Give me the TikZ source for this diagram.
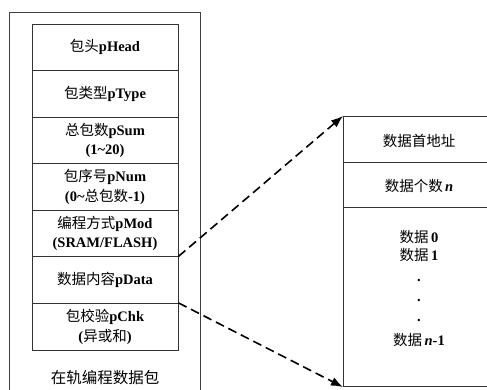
\documentclass[tikz,border=0pt]{standalone}
\usepackage{fontspec}
\setmainfont{Liberation Serif}
\newfontfamily\cjk{Noto Sans CJK SC}
\usetikzlibrary{arrows.meta}
\newcommand{\zh}[1]{{\cjk\mdseries #1}}
\begin{document}
\begin{tikzpicture}[x=1pt,y=-1pt,
  rowbox/.style={draw=black!80, line width=1pt, minimum width=146pt, minimum height=46.57pt, inner sep=0pt, align=center, font=\fontsize{14.5}{19.5}\selectfont\bfseries},
  rbox/.style={draw=black!80, line width=1pt, minimum width=152pt, inner sep=0pt, anchor=north west},
  txt/.style={font=\fontsize{14.5}{19}\selectfont\bfseries, inner sep=0pt, align=center},
  link/.style={dashed, dash pattern=on 9pt off 5pt, line width=1.6pt, -{Latex[length=12pt,width=9pt]}}]
\useasboundingbox (0,0) rectangle (487,389);
\fill[white] (0,0) rectangle (487,389);
% outer box
\draw[line width=1pt, black!75] (9,400) -- (9,12) -- (200,12) -- (200,400);
% left rows
\node[rowbox] (r1) at (105,47.29) {\zh{包头}pHead};
\node[rowbox] (r2) at (105,93.86) {\zh{包类型}pType};
\node[rowbox] (r3) at (105,140.43) {\zh{总包数}pSum\\(1\textasciitilde20)};
\node[rowbox] (r4) at (105,187.0) {\zh{包序号}pNum\\(0\textasciitilde\zh{总包数}-1)};
\node[rowbox] (r5) at (105,233.57) {\zh{编程方式}pMod\\(SRAM/FLASH)};
\node[rowbox] (r6) at (105,280.14) {\zh{数据内容}pData};
\node[rowbox] (r7) at (105,326.71) {\zh{包校验}pChk\\(\zh{异或和})};
\node[txt, font=\fontsize{15.5}{19}\selectfont] (title) at (105,378) {\zh{在轨编程数据包}};
% right box
\node[rbox, minimum height=46pt] (ra) at (343,116) {};
\node[rbox, minimum height=45pt] (rb) at (343,162) {};
\node[rbox, minimum height=179pt] (rc) at (343,207) {};
\node[txt] (ta) at (419,141) {\zh{数据首地址}};
\node[txt] (tb) at (419,186) {\zh{数据个数}\,\textit{n}};
\node[txt] (d0) at (419,237) {\zh{数据}\,0};
\node[txt] (d1) at (419,255) {\zh{数据}\,1};
\node[txt] (p1) at (419,281) {.};
\node[txt] (p2) at (419,301) {.};
\node[txt] (p3) at (419,321) {.};
\node[txt] (dn) at (419,340) {\zh{数据}\,\textit{n}-1};
% connectors
\draw[link] (r6.north east) -- (ra.north west);
\draw[link] (r7.north east) -- (rc.south west);
\end{tikzpicture}
\end{document}
